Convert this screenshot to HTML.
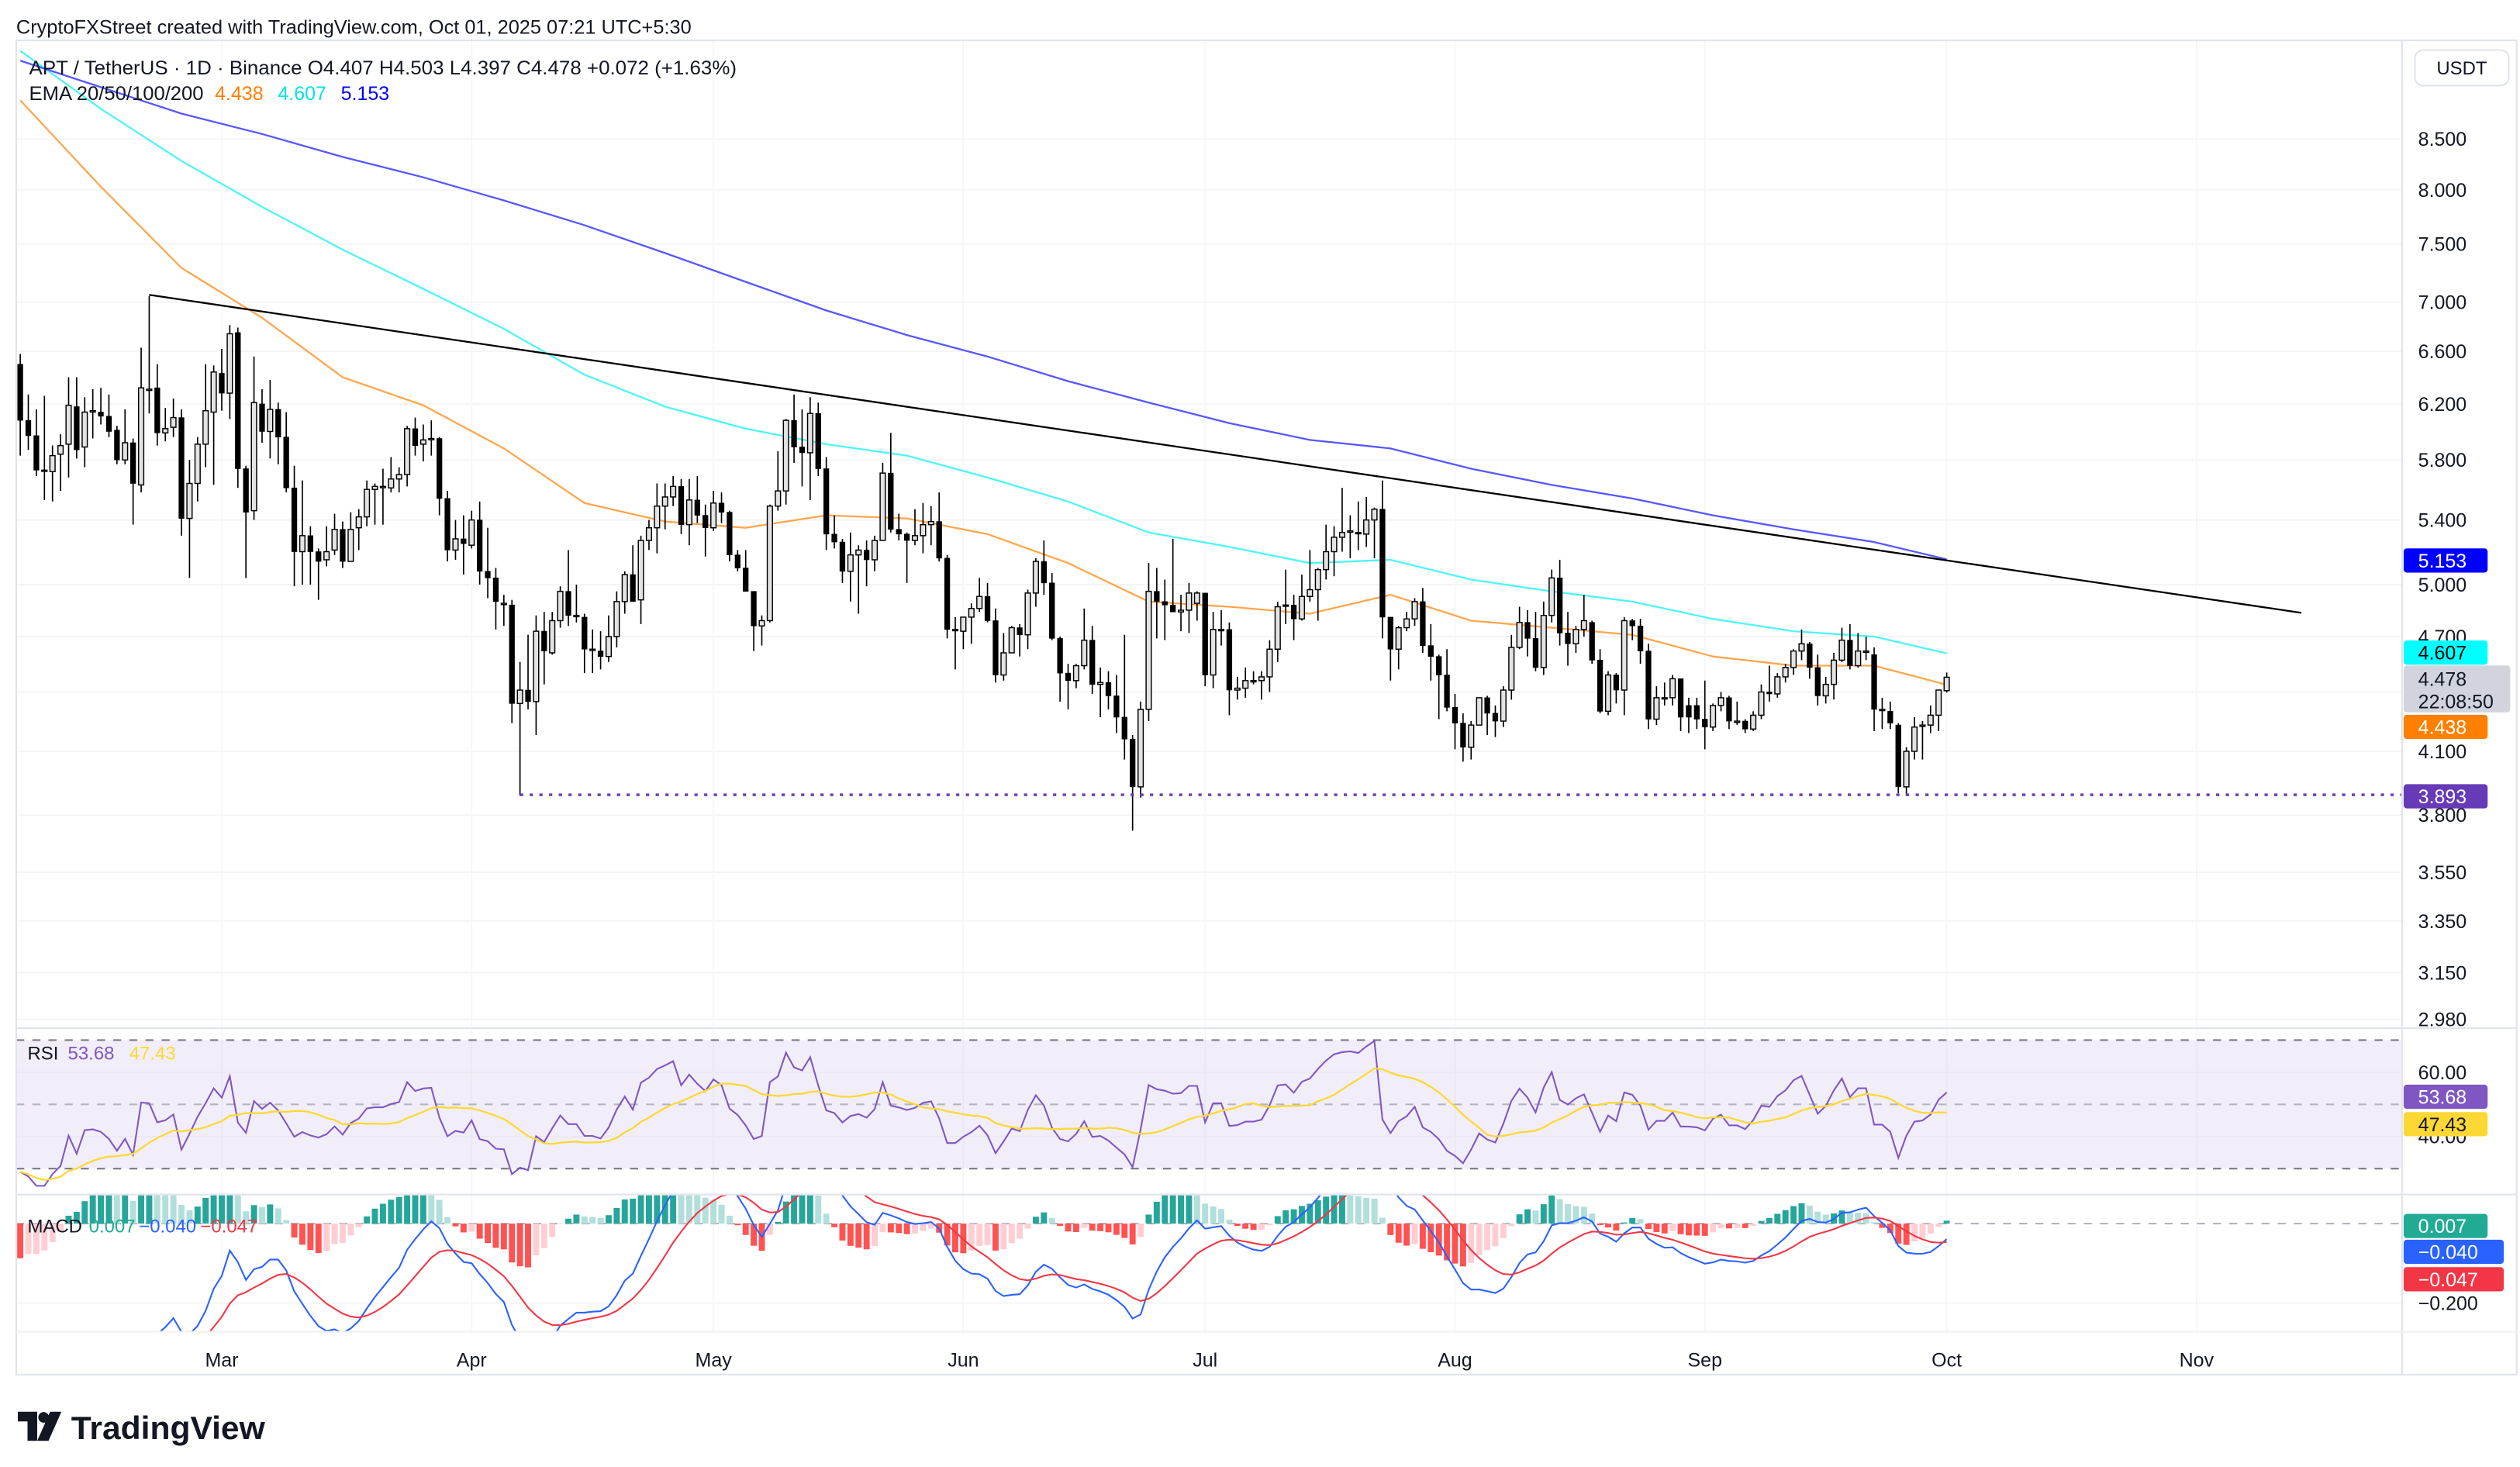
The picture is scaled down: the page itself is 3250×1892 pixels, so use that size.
<!DOCTYPE html>
<html><head><meta charset="utf-8">
<style>
html,body{margin:0;padding:0;background:#fff;}
svg{display:block;font-family:"Liberation Sans",Arial,sans-serif;}
</style></head>
<body>
<svg id="chart" width="3250" height="1892" viewBox="0 0 1560 908.2" xmlns="http://www.w3.org/2000/svg">
<defs>
<clipPath id="cpMain"><rect x="10" y="25" width="1477" height="611"/></clipPath>
<clipPath id="cpRsi"><rect x="10" y="637" width="1477" height="102"/></clipPath>
<clipPath id="cpMacd"><rect x="10" y="740" width="1477" height="84"/></clipPath>
</defs>
<rect x="0" y="0" width="1560" height="908.2" fill="#ffffff"/>
<text x="10" y="21" font-size="12" fill="#131722" textLength="418" lengthAdjust="spacingAndGlyphs">CryptoFXStreet created with TradingView.com, Oct 01, 2025 07:21 UTC+5:30</text>
<g id="gridG"></g>
<g id="emaG" clip-path="url(#cpMain)"></g>
<g id="candleG" clip-path="url(#cpMain)"></g>
<g id="drawG" clip-path="url(#cpMain)"></g>
<g id="rsiG"></g>
<g id="macdG"></g>
<g id="axisG"></g>
<g fill="none" stroke="#e0e3eb" stroke-width="1">
<rect x="10" y="25" width="1548" height="826"/>
<line x1="1487" y1="25" x2="1487" y2="851"/>
<line x1="10" y1="636.5" x2="1558" y2="636.5"/>
<line x1="10" y1="739.5" x2="1558" y2="739.5"/>
<line x1="10" y1="824.5" x2="1558" y2="824.5" stroke="#f0f0f0"/>
</g>
<text x="18" y="46" font-size="12" fill="#131722" textLength="438" lengthAdjust="spacingAndGlyphs">APT / TetherUS · 1D · Binance  O4.407  H4.503  L4.397  C4.478  +0.072 (+1.63%)</text>
<g font-size="12">
<text x="18" y="62" fill="#131722" textLength="108" lengthAdjust="spacingAndGlyphs">EMA 20/50/100/200</text>
<text x="133" y="62" fill="#ff7f00">4.438</text>
<text x="172" y="62" fill="#00e5e5">4.607</text>
<text x="211" y="62" fill="#0000ff">5.153</text>
</g>
<g>
<rect x="1495" y="31" width="58" height="22" rx="5" fill="#fff" stroke="#e0e3eb"/>
<text x="1524" y="46" font-size="11.5" text-anchor="middle" fill="#131722">USDT</text>
</g>
<g font-size="11.5">
<text x="17" y="656" fill="#131722">RSI</text>
<text x="42" y="656" fill="#7e57c2">53.68</text>
<text x="80" y="656" fill="#fdd835">47.43</text>
</g>
<g font-size="11.5">
<text x="17" y="763" fill="#131722">MACD</text>
<text x="55" y="763" fill="#22ab94">0.007</text>
<text x="86" y="763" fill="#2962ff">−0.040</text>
<text x="124" y="763" fill="#f23645">−0.047</text>
</g>
<g>
<path d="M11 874 h12 v18 h-6 v-12 h-6 z" fill="#131722"/>
<circle cx="27" cy="877.5" r="3.3" fill="#131722"/>
<path d="M31 874 h7 l-8 18 h-7 z" fill="#131722"/>
<text x="44" y="891" font-size="20" font-weight="bold" fill="#131722" textLength="120" lengthAdjust="spacingAndGlyphs">TradingView</text>
</g>
</svg>
<script>
const opens=[6.50,6.08,5.97,5.73,5.72,5.84,5.91,6.18,5.89,6.15,6.14,6.11,6.01,5.80,5.92,5.63,6.31,6.32,5.99,6.03,6.10,5.41,5.64,5.91,6.14,6.43,6.28,6.75,5.74,5.46,6.20,6.00,6.16,5.96,5.61,5.20,5.30,5.20,5.15,5.21,5.34,5.14,5.35,5.42,5.60,5.62,5.61,5.67,5.70,6.02,5.91,5.95,5.95,5.54,5.21,5.28,5.24,5.40,5.08,5.04,4.89,4.88,4.34,4.41,4.35,4.73,4.61,4.79,4.96,4.82,4.81,4.63,4.62,4.59,4.70,4.90,5.06,4.91,5.27,5.35,5.49,5.55,5.62,5.37,5.53,5.43,5.35,5.51,5.45,5.18,5.10,4.96,4.76,4.79,5.49,5.59,6.08,5.89,5.85,6.13,5.74,5.31,5.26,5.08,5.18,5.21,5.15,5.27,5.71,5.34,5.31,5.27,5.30,5.37,5.39,5.16,4.74,4.73,4.81,4.86,4.93,4.79,4.49,4.61,4.75,4.71,4.95,5.14,5.01,4.69,4.50,4.46,4.54,4.68,4.44,4.45,4.38,4.27,4.16,3.93,4.31,4.96,4.90,4.88,4.84,4.85,4.89,4.95,4.49,4.74,4.74,4.41,4.42,4.46,4.46,4.48,4.63,4.88,4.88,4.80,4.93,4.97,5.09,5.20,5.29,5.33,5.32,5.31,5.40,5.47,4.81,4.63,4.75,4.80,4.90,4.65,4.59,4.49,4.32,4.24,4.12,4.23,4.37,4.29,4.25,4.41,4.64,4.78,4.69,4.53,4.82,5.04,4.72,4.66,4.74,4.78,4.57,4.30,4.49,4.41,4.79,4.76,4.62,4.26,4.37,4.37,4.47,4.33,4.33,4.26,4.22,4.33,4.37,4.25,4.25,4.21,4.28,4.40,4.39,4.48,4.53,4.62,4.66,4.53,4.38,4.44,4.57,4.68,4.54,4.62,4.60,4.31,4.30,4.23,3.93,4.10,4.23,4.23,4.28,4.407];
const highs=[6.58,6.27,6.16,6.26,5.90,5.98,6.40,6.40,6.25,6.31,6.32,6.27,6.04,6.16,5.95,6.63,7.05,6.50,6.17,6.24,6.16,5.80,5.96,6.50,6.49,6.62,6.81,6.79,5.76,6.56,6.31,6.38,6.21,6.14,5.76,5.66,5.36,5.22,5.36,5.44,5.39,5.45,5.47,5.66,5.64,5.74,5.82,5.75,6.04,6.10,6.05,6.08,5.96,5.59,5.40,5.43,5.46,5.52,5.35,5.10,4.94,4.91,4.56,4.71,4.82,4.84,4.84,4.99,5.21,5.00,4.83,4.74,4.73,4.82,4.96,5.08,5.24,5.30,5.40,5.64,5.64,5.69,5.67,5.67,5.69,5.50,5.59,5.58,5.46,5.21,5.21,4.96,4.82,5.50,5.86,6.09,6.27,6.16,6.25,6.21,5.82,5.43,5.28,5.32,5.24,5.27,5.30,5.78,5.99,5.44,5.32,5.47,5.51,5.49,5.58,5.18,4.81,4.81,4.89,5.04,5.01,4.86,4.72,4.76,4.77,4.97,5.16,5.27,5.07,4.70,4.55,4.55,4.86,4.76,4.53,4.51,4.49,4.71,4.18,4.35,5.13,5.10,5.03,5.28,4.94,5.01,4.96,4.95,4.84,4.85,4.78,4.48,4.53,4.51,4.51,4.68,4.90,5.09,4.94,5.06,5.21,5.10,5.37,5.36,5.61,5.43,5.52,5.55,5.48,5.66,4.81,4.76,4.84,4.92,4.98,4.77,4.60,4.63,4.39,4.29,4.25,4.37,4.38,4.33,4.43,4.71,4.87,4.85,4.84,4.90,5.09,5.15,4.84,4.76,4.94,4.79,4.63,4.51,4.50,4.81,4.80,4.80,4.66,4.43,4.45,4.49,4.47,4.37,4.37,4.46,4.34,4.40,4.38,4.35,4.26,4.30,4.44,4.54,4.50,4.55,4.63,4.74,4.67,4.60,4.48,4.61,4.75,4.77,4.72,4.70,4.64,4.37,4.35,4.24,4.12,4.27,4.25,4.33,4.41,4.503];
const lows=[5.83,5.87,5.69,5.53,5.52,5.59,5.68,5.81,5.75,5.95,6.05,5.96,5.77,5.77,5.37,5.58,6.13,5.90,5.93,5.96,5.30,5.04,5.52,5.75,5.63,6.15,6.09,5.61,5.04,5.40,5.92,5.81,5.77,5.58,4.99,5.00,5.00,4.91,5.11,5.18,5.10,5.14,5.21,5.36,5.37,5.37,5.58,5.58,5.62,5.83,5.79,5.83,5.43,5.14,5.15,5.06,5.22,5.00,4.92,4.74,4.76,4.24,3.89,4.31,4.18,4.44,4.60,4.75,4.76,4.78,4.50,4.50,4.52,4.56,4.64,4.83,4.90,4.77,5.21,5.19,5.34,5.49,5.31,5.24,5.38,5.17,5.33,5.38,5.14,5.08,4.96,4.62,4.65,4.78,5.46,5.50,5.78,5.62,5.53,5.69,5.21,5.22,5.01,4.90,4.83,4.99,5.08,5.27,5.32,5.27,5.01,5.24,5.19,5.24,5.14,4.69,4.52,4.63,4.66,4.84,4.78,4.45,4.46,4.61,4.59,4.63,4.87,4.94,4.68,4.35,4.31,4.42,4.52,4.39,4.27,4.31,4.19,4.06,3.73,3.88,4.25,4.69,4.68,4.84,4.73,4.72,4.79,4.43,4.42,4.65,4.28,4.36,4.37,4.44,4.36,4.40,4.56,4.77,4.68,4.79,4.90,4.79,5.03,5.05,5.20,5.16,5.21,5.23,5.16,4.69,4.46,4.52,4.73,4.76,4.61,4.46,4.26,4.30,4.11,4.05,4.06,4.23,4.18,4.17,4.22,4.36,4.63,4.59,4.51,4.49,4.78,4.65,4.54,4.61,4.70,4.55,4.29,4.28,4.34,4.28,4.68,4.55,4.21,4.23,4.33,4.33,4.20,4.19,4.21,4.11,4.20,4.30,4.21,4.23,4.19,4.20,4.26,4.35,4.37,4.45,4.49,4.57,4.47,4.33,4.34,4.36,4.56,4.52,4.53,4.57,4.20,4.21,4.21,3.90,3.89,4.06,4.06,4.19,4.20,4.397];
const closes=[6.08,5.97,5.73,5.73,5.83,5.90,6.19,5.87,6.14,6.15,6.11,6.00,5.80,5.92,5.64,6.32,6.31,5.99,6.02,6.10,5.41,5.64,5.91,6.15,6.44,6.28,6.74,5.74,5.45,6.21,6.00,6.16,5.96,5.61,5.20,5.30,5.20,5.14,5.20,5.34,5.14,5.34,5.42,5.60,5.62,5.62,5.67,5.70,6.02,5.90,5.94,5.95,5.54,5.21,5.28,5.25,5.40,5.08,5.04,4.90,4.89,4.34,4.41,4.35,4.73,4.62,4.79,4.96,4.82,4.82,4.63,4.63,4.59,4.70,4.90,5.06,4.90,5.27,5.35,5.49,5.55,5.62,5.37,5.53,5.43,5.35,5.51,5.45,5.18,5.10,4.96,4.76,4.79,5.49,5.59,6.08,5.89,5.85,6.13,5.74,5.31,5.26,5.08,5.18,5.21,5.15,5.27,5.71,5.34,5.31,5.27,5.30,5.37,5.39,5.16,4.74,4.74,4.81,4.86,4.93,4.79,4.49,4.61,4.75,4.71,4.95,5.14,5.01,4.69,4.50,4.46,4.54,4.68,4.44,4.45,4.38,4.27,4.16,3.93,4.31,4.96,4.90,4.88,4.84,4.85,4.95,4.95,4.49,4.74,4.74,4.41,4.42,4.46,4.46,4.48,4.63,4.87,4.88,4.80,4.93,4.97,5.09,5.20,5.29,5.32,5.33,5.32,5.40,5.47,4.81,4.63,4.75,4.80,4.90,4.65,4.59,4.49,4.32,4.24,4.12,4.23,4.37,4.29,4.25,4.41,4.64,4.78,4.69,4.53,4.82,5.04,4.72,4.66,4.74,4.79,4.57,4.30,4.49,4.41,4.79,4.76,4.62,4.26,4.37,4.37,4.47,4.27,4.27,4.26,4.22,4.33,4.37,4.25,4.25,4.21,4.28,4.40,4.39,4.48,4.53,4.62,4.66,4.53,4.38,4.44,4.57,4.68,4.54,4.62,4.62,4.31,4.31,4.24,3.93,4.10,4.22,4.23,4.28,4.41,4.478];
const emaIdx=[0,10,20,30,40,50,60,70,80,90,100,110,120,130,140,150,160,170,180,190,200,210,220,230,239];
const ema50=[8.90,8.03,7.29,6.87,6.40,6.19,5.88,5.51,5.39,5.35,5.43,5.41,5.31,5.13,4.90,4.87,4.83,4.94,4.79,4.75,4.71,4.59,4.54,4.54,4.438];
const ema100=[9.44,8.81,8.28,7.84,7.45,7.11,6.78,6.42,6.18,6.02,5.91,5.83,5.68,5.52,5.32,5.23,5.13,5.15,5.03,4.96,4.90,4.80,4.73,4.70,4.607];
const ema200=[9.33,9.04,8.76,8.55,8.32,8.12,7.90,7.67,7.42,7.17,6.93,6.73,6.56,6.37,6.21,6.06,5.94,5.88,5.74,5.63,5.54,5.43,5.34,5.26,5.153];
const priceTicks=[8.5,8.0,7.5,7.0,6.6,6.2,5.8,5.4,5.0,4.7,4.4,4.1,3.8,3.55,3.35,3.15,2.98];
const monthLabels=["Mar","Apr","May","Jun","Jul","Aug","Sep","Oct","Nov"];
const monthIdx=[25,56,86,117,147,178,209,239,270];
const trendPts=[[16,7.06],[283,4.835]];
const supportLevel=3.893;
const supportStart=62;
const rsiTicks=[60,40];
const macdTicks=[-0.2];

const NS="http://www.w3.org/2000/svg";
function xOf(i){return 12.5+i*4.99;}
function yP(p){return 86+Math.log(8.5/p)*520;}
function yR(r){return 683.7-(r-50)*1.99;}
function yM(v){return 757.5-v*246;}
function mk(parent,tag,attrs){const e=document.createElementNS(NS,tag);for(const k in attrs)e.setAttribute(k,attrs[k]);parent.appendChild(e);return e;}

const gridG=document.getElementById('gridG');
const emaG=document.getElementById('emaG');
const candleG=document.getElementById('candleG');
const drawG=document.getElementById('drawG');
const rsiG=document.getElementById('rsiG');
const macdG=document.getElementById('macdG');
const axisG=document.getElementById('axisG');

priceTicks.forEach(function(p){
  const y=yP(p);
  const gl=mk(gridG,'line',{x1:10,x2:1487,y1:y,y2:y,stroke:'#f2f3f5','stroke-width':0.8});
  
  
  const t=mk(axisG,'text',{x:1497,y:y+4.3,'font-size':12,fill:'#131722'});
  
  
  t.textContent=p.toFixed(3);
});
monthIdx.forEach(function(mi,k){
  const x=xOf(mi);
  const vl=mk(gridG,'line',{x1:x,x2:x,y1:25,y2:824,stroke:'#f6f6f8','stroke-width':0.8});
  
  
  const t=mk(axisG,'text',{x:x,y:846,'font-size':12,'text-anchor':'middle',fill:'#131722'});
  
  
  t.textContent=monthLabels[k];
});

function emaPath(vals){return emaIdx.map(function(ix,k){return (k?'L':'M')+xOf(ix).toFixed(2)+' '+yP(vals[k]).toFixed(2);}).join(' ');}
const e50=mk(emaG,'path',{d:emaPath(ema50),fill:'none',stroke:'#ffa64d','stroke-width':1.1});


const e100=mk(emaG,'path',{d:emaPath(ema100),fill:'none',stroke:'#4df5f5','stroke-width':1.1});


const e200=mk(emaG,'path',{d:emaPath(ema200),fill:'none',stroke:'#5757ff','stroke-width':1.1});



const tl=mk(drawG,'line',{x1:xOf(trendPts[0][0]),y1:yP(trendPts[0][1]),x2:xOf(trendPts[1][0]),y2:yP(trendPts[1][1]),stroke:'#000','stroke-width':1.1});



for(let i=0;i<closes.length;i++){
  const x=xOf(i),o=opens[i],c=closes[i],h=highs[i],l=lows[i];
  const up=c>=o;
  const w=mk(candleG,'line',{x1:x,x2:x,y1:yP(h),y2:yP(l),stroke:'#000','stroke-width':0.8});
  
  
  const yt=yP(Math.max(o,c)),yb=yP(Math.min(o,c));
  const b=mk(candleG,'rect',{x:x-1.6,y:yt,width:3.2,height:Math.max(0.8,yb-yt),fill:up?'#e3e3e3':'#000',stroke:'#000','stroke-width':up?0.7:0.3});
  
  
}

const sl=mk(drawG,'line',{x1:xOf(supportStart),x2:1487,y1:yP(supportLevel),y2:yP(supportLevel),stroke:'#673ab7','stroke-width':1.6,'stroke-dasharray':'2 4'});



const rsi=[];let ag=0.05,al=0.09,prev=6.5;
for(let i=0;i<closes.length;i++){const d=closes[i]-prev;prev=closes[i];ag=(ag*13+Math.max(d,0))/14;al=(al*13+Math.max(-d,0))/14;rsi.push(100-100/(1+ag/al));}
const rsiMa=rsi.map(function(v,i){const s=rsi.slice(Math.max(0,i-13),i+1);return s.reduce(function(a,b){return a+b;},0)/s.length;});
const band=mk(rsiG,'rect',{x:10,y:yR(70),width:1477,height:yR(30)-yR(70),fill:'#7e57c2','fill-opacity':0.1});


[70,50,30].forEach(function(lv){
  const ln=mk(rsiG,'line',{x1:10,x2:1487,y1:yR(lv),y2:yR(lv),stroke:lv===50?'#b2b5be':'#787b86','stroke-width':1,'stroke-dasharray':'5 5'});
  
  
});
rsiTicks.forEach(function(v){
  const g=mk(rsiG,'line',{x1:10,x2:1487,y1:yR(v),y2:yR(v),stroke:'#ebe8f3','stroke-width':0.8});
  
  
  const t=mk(axisG,'text',{x:1497,y:yR(v)+4.3,'font-size':12,fill:'#131722'});
  
  
  t.textContent=v.toFixed(2);
});
const rsiClip=mk(rsiG,'g',{'clip-path':'url(#cpRsi)'});


const rl=mk(rsiClip,'path',{d:rsi.map(function(v,i){return (i?'L':'M')+xOf(i).toFixed(2)+' '+yR(v).toFixed(2);}).join(' '),fill:'none',stroke:'#7e57c2','stroke-width':1});


const rm=mk(rsiClip,'path',{d:rsiMa.map(function(v,i){return (i?'L':'M')+xOf(i).toFixed(2)+' '+yR(v).toFixed(2);}).join(' '),fill:'none',stroke:'#fdd835','stroke-width':1.1});



let e12=6.75,e26=7.35,sig=-0.5;const macd=[],signal=[],hist=[];
for(let i=0;i<closes.length;i++){e12+= (closes[i]-e12)*2/13;e26+=(closes[i]-e26)*2/27;const m=e12-e26;sig+=(m-sig)*2/10;macd.push(m);signal.push(sig);hist.push(m-sig);}
const zl=mk(macdG,'line',{x1:10,x2:1487,y1:yM(0),y2:yM(0),stroke:'#b2b5be','stroke-width':1,'stroke-dasharray':'5 5'});


macdTicks.forEach(function(v){
  const g=mk(macdG,'line',{x1:10,x2:1487,y1:yM(v),y2:yM(v),stroke:'#f2f3f5','stroke-width':0.8});
  
  
  const t=mk(axisG,'text',{x:1497,y:yM(v)+4.3,'font-size':12,fill:'#131722'});
  
  
  t.textContent='−'+Math.abs(v).toFixed(3);
});
const mClip=mk(macdG,'g',{'clip-path':'url(#cpMacd)'});


for(let i=0;i<hist.length;i++){
  const v=hist[i],pv=i?hist[i-1]:v;
  const col=v>=0?(v>=pv?'#26a69a':'#b2dfdb'):(v<=pv?'#ff5252':'#ffcdd2');
  const y0=yM(0),y1=yM(v);
  const hb=mk(mClip,'rect',{x:xOf(i)-1.9,y:Math.min(y0,y1),width:3.8,height:Math.abs(y1-y0),fill:col});
  
  
}
const ml=mk(mClip,'path',{d:macd.map(function(v,i){return (i?'L':'M')+xOf(i).toFixed(2)+' '+yM(v).toFixed(2);}).join(' '),fill:'none',stroke:'#2962ff','stroke-width':1});


const sgl=mk(mClip,'path',{d:signal.map(function(v,i){return (i?'L':'M')+xOf(i).toFixed(2)+' '+yM(v).toFixed(2);}).join(' '),fill:'none',stroke:'#f23645','stroke-width':1});



function badge(name,yc,txt,bg,fg,w){
  const g=mk(axisG,'g',{});
  
  
  mk(g,'rect',{x:1488,y:yc-7.5,width:w,height:15,rx:2,fill:bg});
  const t=mk(g,'text',{x:1497,y:yc+4.3,'font-size':12,fill:fg});
  t.textContent=txt;
}
badge('ema200-badge',347,'5.153','#0000ff','#fff',52);
badge('ema100-badge',404,'4.607','#00ffff','#000',52);
const cg=mk(axisG,'g',{});


mk(cg,'rect',{x:1488,y:412,width:66,height:29,rx:2,fill:'#d1d4dc'});
const ct1=mk(cg,'text',{x:1497,y:424.5,'font-size':12,fill:'#131722'});ct1.textContent='4.478';
const ct2=mk(cg,'text',{x:1497,y:438.5,'font-size':12,fill:'#131722'});ct2.textContent='22:08:50';
badge('ema50-badge',450,'4.438','#ff7f00','#fff',52);
badge('support-badge',493,'3.893','#673ab7','#fff',52);
badge('rsi-badge',679,'53.68','#7e57c2','#fff',52);
badge('rsi-ma-badge',696,'47.43','#fdd835','#131722',52);
badge('macd-hist-badge',759,'0.007','#22ab94','#fff',52);
badge('macd-badge',775,'−0.040','#2962ff','#fff',62);
badge('macd-signal-badge',792,'−0.047','#f23645','#fff',62);
</script>
</body></html>
